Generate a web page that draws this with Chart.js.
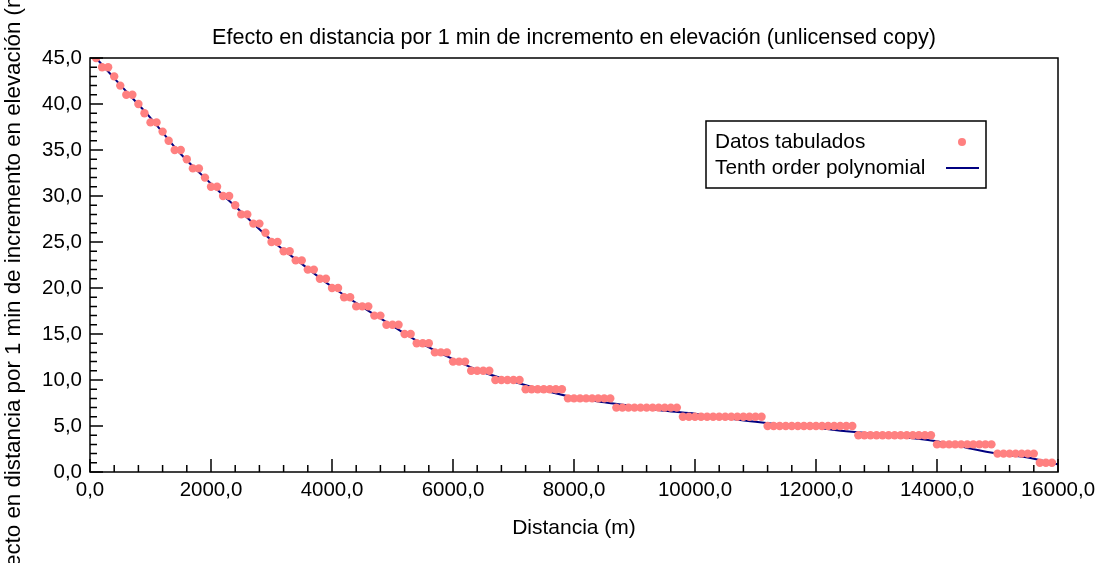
<!DOCTYPE html>
<html>
<head>
<meta charset="utf-8">
<script src="https://cdn.jsdelivr.net/npm/chart.js@4.4.0/dist/chart.umd.min.js"></script>
<style>
  html, body { margin: 0; padding: 0; background: #fff; }
</style>
</head>
<body>
<canvas id="rangeChart" width="1108" height="563"></canvas>
<script>
// tabulated table: distance (m) -> effect of 1 mil of elevation (m)
const distances = [
  100, 200, 300, 400, 500, 600, 700, 800, 900, 1000,
  1100, 1200, 1300, 1400, 1500, 1600, 1700, 1800, 1900, 2000,
  2100, 2200, 2300, 2400, 2500, 2600, 2700, 2800, 2900, 3000,
  3100, 3200, 3300, 3400, 3500, 3600, 3700, 3800, 3900, 4000,
  4100, 4200, 4300, 4400, 4500, 4600, 4700, 4800, 4900, 5000,
  5100, 5200, 5300, 5400, 5500, 5600, 5700, 5800, 5900, 6000,
  6100, 6200, 6300, 6400, 6500, 6600, 6700, 6800, 6900, 7000,
  7100, 7200, 7300, 7400, 7500, 7600, 7700, 7800, 7900, 8000,
  8100, 8200, 8300, 8400, 8500, 8600, 8700, 8800, 8900, 9000,
  9100, 9200, 9300, 9400, 9500, 9600, 9700, 9800, 9900, 10000,
  10100, 10200, 10300, 10400, 10500, 10600, 10700, 10800, 10900, 11000,
  11100, 11200, 11300, 11400, 11500, 11600, 11700, 11800, 11900, 12000,
  12100, 12200, 12300, 12400, 12500, 12600, 12700, 12800, 12900, 13000,
  13100, 13200, 13300, 13400, 13500, 13600, 13700, 13800, 13900, 14000,
  14100, 14200, 14300, 14400, 14500, 14600, 14700, 14800, 14900, 15000,
  15100, 15200, 15300, 15400, 15500, 15600, 15700, 15800, 15900
];
const effect = [
  45, 44, 44, 43, 42, 41, 41, 40, 39, 38,
  38, 37, 36, 35, 35, 34, 33, 33, 32, 31,
  31, 30, 30, 29, 28, 28, 27, 27, 26, 25,
  25, 24, 24, 23, 23, 22, 22, 21, 21, 20,
  20, 19, 19, 18, 18, 18, 17, 17, 16, 16,
  16, 15, 15, 14, 14, 14, 13, 13, 13, 12,
  12, 12, 11, 11, 11, 11, 10, 10, 10, 10,
  10, 9, 9, 9, 9, 9, 9, 9, 8, 8,
  8, 8, 8, 8, 8, 8, 7, 7, 7, 7,
  7, 7, 7, 7, 7, 7, 7, 6, 6, 6,
  6, 6, 6, 6, 6, 6, 6, 6, 6, 6,
  6, 5, 5, 5, 5, 5, 5, 5, 5, 5,
  5, 5, 5, 5, 5, 5, 4, 4, 4, 4,
  4, 4, 4, 4, 4, 4, 4, 4, 4, 3,
  3, 3, 3, 3, 3, 3, 3, 3, 3, 2,
  2, 2, 2, 2, 2, 2, 1, 1, 1
];

// fitted curve
const fitX = [100, 500, 1000, 1500, 2000, 2500, 3000, 3500, 4000, 4500, 5000,
  5500, 6000, 6500, 7000, 7500, 8000, 8500, 9000, 9500, 10000,
  10500, 11000, 11500, 12000, 12500, 13000, 13500, 14000, 14500, 15000, 15500, 16000];
const fitY = [45.0, 42.07, 38.5, 34.56, 31.34, 28.27, 25.19, 22.62, 20.13, 17.94, 15.88,
  13.9, 12.27, 10.84, 9.83, 8.89, 8.1, 7.58, 7.14, 6.65, 6.34,
  5.88, 5.45, 5.09, 4.8, 4.44, 4.12, 3.75, 3.34, 2.62, 1.99, 1.58, 0.83];

const xTicks = [0, 2000, 4000, 6000, 8000, 10000, 12000, 14000, 16000];
const yTicks = [0, 5, 10, 15, 20, 25, 30, 35, 40, 45];

const FONT = '"Liberation Sans", Arial, sans-serif';

function fmt(v) {
  return v.toFixed(1).replace('.', ',');
}

const decorations = {
  id: 'decorations',
  afterDatasetsDraw(chart) {
    const ctx = chart.ctx;
    const a = chart.chartArea;
    const xs = chart.scales.x, ys = chart.scales.y;
    ctx.save();
    ctx.strokeStyle = '#000';
    ctx.lineWidth = 1.5;
    ctx.strokeRect(a.left, a.top, a.right - a.left, a.bottom - a.top);
    ctx.beginPath();
    // minor + major ticks pointing inwards
    for (let v = 0; v <= 16000; v += 400) {
      const px = xs.getPixelForValue(v);
      const len = v % 2000 === 0 ? 13 : 7;
      ctx.moveTo(px, a.bottom);
      ctx.lineTo(px, a.bottom - len);
    }
    for (let v = 0; v <= 45; v += 1) {
      const py = ys.getPixelForValue(v);
      const len = v % 5 === 0 ? 13 : 7;
      ctx.moveTo(a.left, py);
      ctx.lineTo(a.left + len, py);
    }
    ctx.stroke();
    ctx.restore();
  },
  afterDraw(chart) {
    const ctx = chart.ctx;
    const a = chart.chartArea;
    const cx = (a.left + a.right) / 2;
    ctx.save();
    ctx.fillStyle = '#000';
    ctx.textAlign = 'center';
    ctx.textBaseline = 'middle';
    ctx.font = '21.6px ' + FONT;
    ctx.fillText('Efecto en distancia por 1 min de incremento en elevación (unlicensed copy)', cx, 38);
    ctx.font = '21px ' + FONT;
    ctx.fillText('Distancia (m)', cx, 528);

    ctx.save();
    ctx.translate(14, 285);
    ctx.rotate(-Math.PI / 2);
    ctx.font = '22.3px ' + FONT;
    ctx.fillText('Efecto en distancia por 1 min de incremento en elevación (m)', 0, 0);
    ctx.restore();

    // legend box
    ctx.font = '20.8px ' + FONT;
    ctx.lineWidth = 1.5;
    ctx.strokeStyle = '#000';
    ctx.strokeRect(706, 121, 280, 67);
    ctx.textAlign = 'left';
    ctx.fillText('Datos tabulados', 715, 142);
    ctx.fillText('Tenth order polynomial', 715, 168);
    ctx.fillStyle = '#ff8080';
    ctx.beginPath();
    ctx.arc(962, 142, 4, 0, Math.PI * 2);
    ctx.fill();
    ctx.strokeStyle = '#000080';
    ctx.lineWidth = 2;
    ctx.beginPath();
    ctx.moveTo(946, 168);
    ctx.lineTo(979, 168);
    ctx.stroke();
    ctx.restore();
  }
};

new Chart('rangeChart', {
  type: 'scatter',
  data: {
    datasets: [{
      label: 'Datos tabulados',
      data: distances.map((d, i) => ({ x: d, y: effect[i] })),
      backgroundColor: '#ff8080',
      borderWidth: 0,
      pointRadius: 4.2,
      pointHoverRadius: 4.2
    }, {
      label: 'Tenth order polynomial',
      data: fitX.map((d, i) => ({ x: d, y: fitY[i] })),
      showLine: true,
      borderColor: '#000080',
      borderWidth: 2,
      pointRadius: 0,
      cubicInterpolationMode: 'monotone'
    }]
  },
  options: {
    responsive: false,
    animation: false,
    events: [],
    layout: { padding: { top: 58, right: 50, left: 0, bottom: 0 } },
    plugins: {
      legend: { display: false },
      title: { display: false },
      tooltip: { enabled: false }
    },
    scales: {
      x: {
        type: 'linear',
        min: 0,
        max: 16000,
        grid: { display: false, drawTicks: false },
        border: { display: false },
        afterBuildTicks: s => { s.ticks = xTicks.map(v => ({ value: v })); },
        afterFit: s => { s.height = 91; },
        ticks: {
          color: '#000',
          font: { family: FONT, size: 20.5 },
          padding: 6,
          maxRotation: 0,
          autoSkip: false,
          callback: v => fmt(v)
        }
      },
      y: {
        type: 'linear',
        min: 0,
        max: 45,
        grid: { display: false, drawTicks: false },
        border: { display: false },
        afterBuildTicks: s => { s.ticks = yTicks.map(v => ({ value: v })); },
        afterFit: s => { s.width = 90; },
        ticks: {
          color: '#000',
          font: { family: FONT, size: 20.5 },
          padding: 8,
          callback: v => fmt(v)
        }
      }
    }
  },
  plugins: [decorations]
});
</script>
</body>
</html>
